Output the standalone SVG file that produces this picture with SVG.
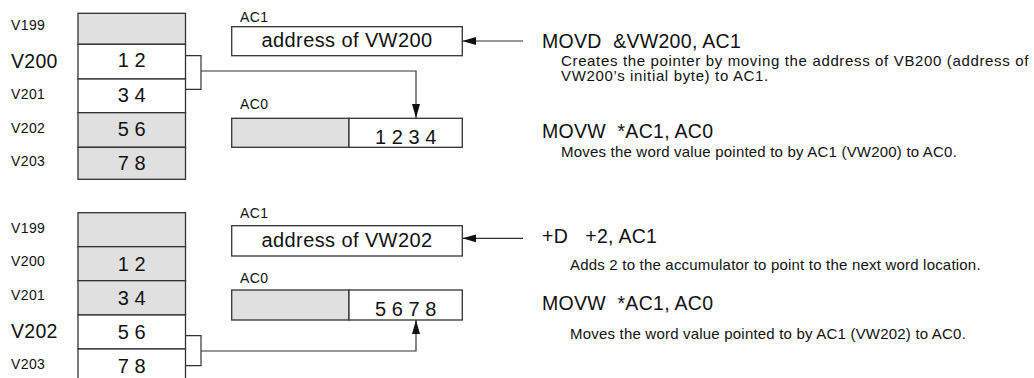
<svg xmlns="http://www.w3.org/2000/svg" width="1034" height="378" viewBox="0 0 1034 378">
<defs>
<style>
text{font-family:"Liberation Sans",Arial,sans-serif;fill:#111;}
.sm{font-size:14px;letter-spacing:0.4px;}
.big{font-size:19.5px;letter-spacing:0.3px;}
.cell{font-size:20px;text-anchor:middle;}
.addr{font-size:20px;letter-spacing:0.4px;text-anchor:middle;}
.d1{font-size:15px;letter-spacing:0.65px;}
.d3{font-size:15px;letter-spacing:0.2px;}
.g{fill:#e0e0e0;stroke:#333;stroke-width:1.3;}
.w{fill:#fff;stroke:#333;stroke-width:1.3;}
.ln{fill:none;stroke:#333;stroke-width:1.2;}
</style>
<marker id="ah" markerUnits="userSpaceOnUse" markerWidth="16" markerHeight="10" refX="14" refY="5" orient="auto">
<path d="M0,1 L14,5 L0,9 Z" fill="#111"/>
</marker>
</defs>
<rect width="1034" height="378" fill="#fff"/>

<!-- TOP SECTION -->
<g id="mem-top">
<rect class="g" x="78" y="13.3" width="107.5" height="31"/>
<rect class="w" x="78" y="44.3" width="107.5" height="34.7"/>
<rect class="w" x="78" y="79" width="107.5" height="33.7"/>
<rect class="g" x="78" y="112.7" width="107.5" height="34.6"/>
<rect class="g" x="78" y="147.3" width="107.5" height="32"/>
<text class="cell" x="131.7" y="67">1 2</text>
<text class="cell" x="131.7" y="102">3 4</text>
<text class="cell" x="131.7" y="136.3">5 6</text>
<text class="cell" x="131.7" y="169.5">7 8</text>
</g>
<g id="labels-top">
<text class="sm" x="11" y="29.5">V199</text>
<text class="big" x="11" y="68">V200</text>
<text class="sm" x="11" y="99">V201</text>
<text class="sm" x="11" y="132.5">V202</text>
<text class="sm" x="11" y="166">V203</text>
</g>
<g id="ac1-top">
<text class="sm" x="240" y="22">AC1</text>
<rect class="w" x="231.7" y="26.7" width="230.6" height="29"/>
<text class="addr" x="347" y="47">address of VW200</text>
</g>
<g id="ac0-top">
<text class="sm" x="240" y="109">AC0</text>
<rect class="g" x="231.7" y="118.3" width="117.3" height="29"/>
<rect class="w" x="349" y="118.3" width="113.3" height="29"/>
<text class="cell" x="405.7" y="143.5">1 2 3 4</text>
</g>
<g id="instr-top">
<text class="big" x="542" y="48" xml:space="preserve">MOVD  &amp;VW200, AC1</text>
<text class="d1" x="561" y="66">Creates the pointer by moving the address of VB200 (address of</text>
<text class="d1" x="561" y="81">VW200’s initial byte) to AC1.</text>
<text class="big" x="542" y="138" xml:space="preserve">MOVW  *AC1, AC0</text>
<text class="d3" x="561" y="157">Moves the word value pointed to by AC1 (VW200) to AC0.</text>
</g>

<!-- BOTTOM SECTION -->
<g id="mem-bottom">
<rect class="g" x="78" y="212.7" width="107.5" height="34"/>
<rect class="g" x="78" y="246.7" width="107.5" height="34"/>
<rect class="g" x="78" y="280.7" width="107.5" height="34.3"/>
<rect class="w" x="78" y="315" width="107.5" height="34"/>
<rect class="w" x="78" y="349" width="107.5" height="40"/>
<text class="cell" x="131.7" y="270.5">1 2</text>
<text class="cell" x="131.7" y="304.5">3 4</text>
<text class="cell" x="131.7" y="338.5">5 6</text>
<text class="cell" x="131.7" y="373">7 8</text>
</g>
<g id="labels-bottom">
<text class="sm" x="11" y="233">V199</text>
<text class="sm" x="11" y="266">V200</text>
<text class="sm" x="11" y="300">V201</text>
<text class="big" x="11" y="338.3">V202</text>
<text class="sm" x="11" y="369">V203</text>
</g>
<g id="ac1-bottom">
<text class="sm" x="240" y="218.3">AC1</text>
<rect class="w" x="231.7" y="225.7" width="230.6" height="30.3"/>
<text class="addr" x="347" y="247">address of VW202</text>
</g>
<g id="ac0-bottom">
<text class="sm" x="240" y="283.3">AC0</text>
<rect class="g" x="231.7" y="290" width="117.3" height="30"/>
<rect class="w" x="349" y="290" width="113.3" height="30"/>
<text class="cell" x="405.7" y="316.3">5 6 7 8</text>
</g>
<g id="instr-bottom">
<text class="big" x="542" y="243.3" xml:space="preserve">+D   +2, AC1</text>
<text class="d3" x="570" y="269.5">Adds 2 to the accumulator to point to the next word location.</text>
<text class="big" x="542" y="310" xml:space="preserve">MOVW  *AC1, AC0</text>
<text class="d3" x="570" y="338.5">Moves the word value pointed to by AC1 (VW202) to AC0.</text>
</g>

<g id="connectors">
<path class="ln" d="M185.5,55.7 H201 V89.3 H185.5"/>
<path class="ln" d="M201,71 H416 V118" marker-end="url(#ah)"/>
<path class="ln" d="M523,41 H462.3" marker-end="url(#ah)"/>
<path class="ln" d="M185.5,335.7 H201 V365.7 H185.5"/>
<path class="ln" d="M201,351 H416 V320" marker-end="url(#ah)"/>
<path class="ln" d="M523,238.3 H462.3" marker-end="url(#ah)"/>
</g>
</svg>
